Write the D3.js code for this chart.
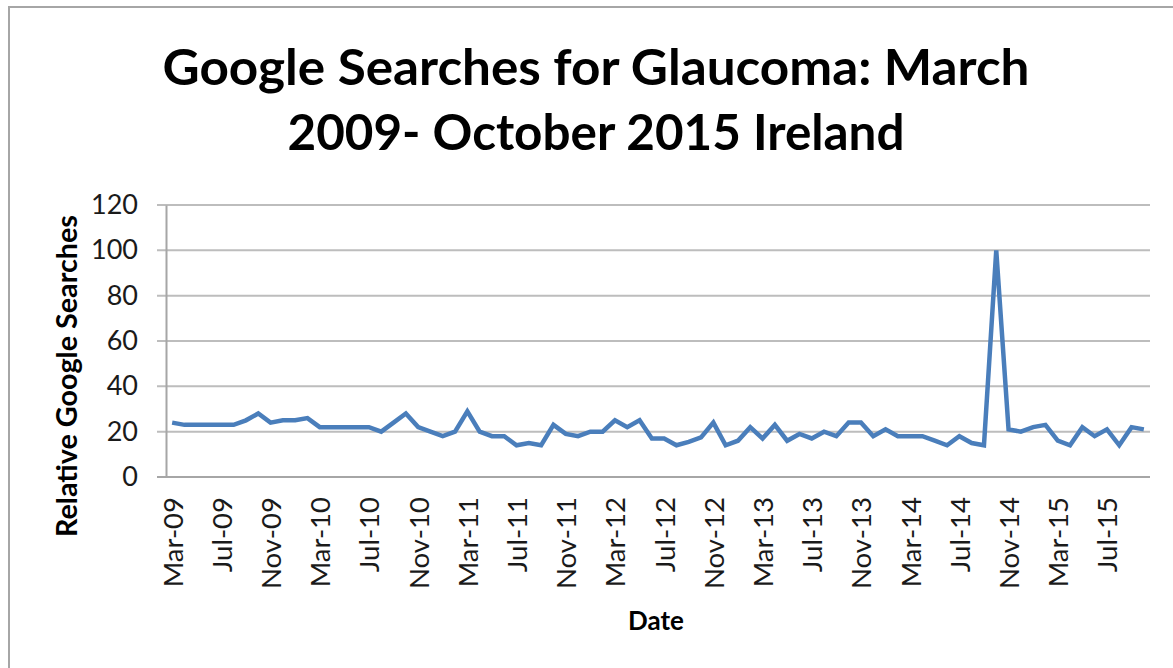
<html>
<head>
<script src="https://cdnjs.cloudflare.com/ajax/libs/d3/7.8.5/d3.min.js"></script>
<style>
  body { margin: 0; background: #fff; }
  svg { display: block; }
</style>
</head>
<body>
<script>
// monthly categories, Mar 2009 .. Oct 2015
var months = [
  "Mar-09","Apr-09","May-09","Jun-09","Jul-09","Aug-09","Sep-09","Oct-09","Nov-09","Dec-09",
  "Jan-10","Feb-10","Mar-10","Apr-10","May-10","Jun-10","Jul-10","Aug-10","Sep-10","Oct-10","Nov-10","Dec-10",
  "Jan-11","Feb-11","Mar-11","Apr-11","May-11","Jun-11","Jul-11","Aug-11","Sep-11","Oct-11","Nov-11","Dec-11",
  "Jan-12","Feb-12","Mar-12","Apr-12","May-12","Jun-12","Jul-12","Aug-12","Sep-12","Oct-12","Nov-12","Dec-12",
  "Jan-13","Feb-13","Mar-13","Apr-13","May-13","Jun-13","Jul-13","Aug-13","Sep-13","Oct-13","Nov-13","Dec-13",
  "Jan-14","Feb-14","Mar-14","Apr-14","May-14","Jun-14","Jul-14","Aug-14","Sep-14","Oct-14","Nov-14","Dec-14",
  "Jan-15","Feb-15","Mar-15","Apr-15","May-15","Jun-15","Jul-15","Aug-15","Sep-15","Oct-15"
];

var searches = [
  24, 23, 23, 23, 23, 23, 25, 28, 24, 25,
  25, 26, 22, 22, 22, 22, 22, 20, 24, 28, 22, 20,
  18, 20, 29, 20, 18, 18, 14, 15, 14, 23, 19, 18,
  20, 20, 25, 22, 25, 17, 17, 14, 15.5, 17.5, 24, 14,
  16, 22, 17, 23, 16, 19, 17, 20, 18, 24, 24, 18,
  21, 18, 18, 18, 16, 14, 18, 15, 14, 100, 21, 20,
  22, 23, 16, 14, 22, 18, 21, 14, 22, 21
];

var xTickLabels = ["Mar-09","Jul-09","Nov-09","Mar-10","Jul-10","Nov-10","Mar-11","Jul-11","Nov-11",
  "Mar-12","Jul-12","Nov-12","Mar-13","Jul-13","Nov-13","Mar-14","Jul-14","Nov-14","Mar-15","Jul-15"];
var yTicks = [0, 20, 40, 60, 80, 100, 120];

var W = 1173, H = 668;
var plotLeft = 166, plotRight = 1150, plotTop = 205, plotBottom = 477;
var font = "Lato, 'Open Sans', sans-serif";

var svg = d3.select("body").append("svg")
    .attr("width", W)
    .attr("height", H);

// chart frame (cut off at right and bottom)
svg.append("rect")
    .attr("x", 9).attr("y", 7)
    .attr("width", W + 20).attr("height", H + 20)
    .attr("fill", "#fff")
    .attr("stroke", "#a6a6a6")
    .attr("stroke-width", 2);

var x = d3.scalePoint()
    .domain(months)
    .range([plotLeft, plotRight])
    .padding(0.5);

var y = d3.scaleLinear()
    .domain([0, 120])
    .range([plotBottom, plotTop]);

// gridlines
svg.append("g")
    .selectAll("line")
    .data(yTicks)
    .enter()
    .append("line")
    .attr("x1", plotLeft - 9)
    .attr("x2", plotRight)
    .attr("y1", d => y(d))
    .attr("y2", d => y(d))
    .attr("stroke", d => d == 0 ? "#a6a6a6" : "#bdbdbd")
    .attr("stroke-width", 2);

// y axis
var yAxisGroup = svg.append("g")
    .attr("transform", "translate(" + plotLeft + ",0)");
var yAxis = d3.axisLeft(y)
    .tickValues(yTicks)
    .tickSize(0)
    .tickPadding(28);
yAxis(yAxisGroup);
yAxisGroup.select(".domain")
    .attr("stroke", "#a6a6a6")
    .attr("stroke-width", 2);
yAxisGroup.selectAll("text")
    .style("font-family", font)
    .style("font-size", "27px")
    .attr("fill", "#1a1a1a");

// x axis
var xAxisGroup = svg.append("g")
    .attr("transform", "translate(0," + plotBottom + ")");
var xAxis = d3.axisBottom(x)
    .tickValues(xTickLabels)
    .tickSize(0);
xAxis(xAxisGroup);
xAxisGroup.select(".domain").remove();
xAxisGroup.selectAll("text")
    .style("font-family", font)
    .style("font-size", "27.5px")
    .attr("fill", "#1a1a1a")
    .attr("text-anchor", "end")
    .attr("transform", "rotate(-90)")
    .attr("x", -20)
    .attr("y", 0)
    .attr("dy", "0.36em");

// the line
var line = d3.line()
    .x((d, i) => x(months[i]))
    .y(d => y(d))
    .curve(d3.curveLinear);

svg.append("path")
    .datum(searches)
    .attr("fill", "none")
    .attr("stroke", "#4a7ebb")
    .attr("stroke-width", 4.5)
    .attr("stroke-linejoin", "miter")
    .attr("stroke-miterlimit", 4)
    .attr("d", line);

// titles
var title = svg.append("text")
    .attr("text-anchor", "middle")
    .style("font-family", font)
    .style("font-weight", "bold")
    .style("font-size", "49px")
    .attr("fill", "#000");
title.append("tspan").attr("x", 596).attr("y", 85)
    .attr("textLength", 867).attr("lengthAdjust", "spacingAndGlyphs")
    .text("Google Searches for Glaucoma: March");
title.append("tspan").attr("x", 596).attr("y", 150)
    .attr("textLength", 617).attr("lengthAdjust", "spacingAndGlyphs")
    .text("2009- October 2015 Ireland");

svg.append("text")
    .attr("transform", "translate(77," + 376 + ") rotate(-90)")
    .attr("text-anchor", "middle")
    .style("font-family", font)
    .style("font-weight", "bold")
    .style("font-size", "28px")
    .attr("textLength", 322)
    .attr("lengthAdjust", "spacingAndGlyphs")
    .attr("fill", "#000")
    .text("Relative Google Searches");

svg.append("text")
    .attr("x", 656)
    .attr("y", 630)
    .attr("text-anchor", "middle")
    .style("font-family", font)
    .style("font-weight", "bold")
    .style("font-size", "26px")
    .attr("fill", "#000")
    .text("Date");
</script>
</body>
</html>
